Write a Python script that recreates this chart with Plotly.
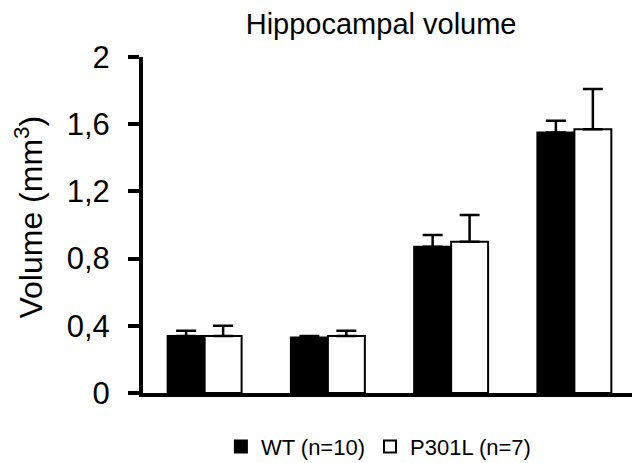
import plotly.graph_objects as go

categories = ["1", "2", "3", "4"]
wt_values = [0.34, 0.33, 0.87, 1.55]
wt_errors = [0.03, 0.01, 0.07, 0.07]
p301l_values = [0.34, 0.34, 0.90, 1.57]
p301l_errors = [0.06, 0.03, 0.16, 0.24]
series_names = ["WT (n=10)", "P301L (n=7)"]
tick_vals = [0, 0.4, 0.8, 1.2, 1.6, 2]
tick_text = ["0", "0,4", "0,8", "1,2", "1,6", "2"]

FONT = "Liberation Sans, Arial, sans-serif"

fig = go.Figure()
fig.add_trace(go.Bar(
    x=categories, y=wt_values, name=series_names[0],
    marker=dict(color="black", line=dict(color="black", width=2)),
    error_y=dict(type="data", array=wt_errors, arrayminus=[0] * len(wt_errors),
                 symmetric=False, color="black", thickness=2.5, width=10),
))
fig.add_trace(go.Bar(
    x=categories, y=p301l_values, name=series_names[1],
    marker=dict(color="white", line=dict(color="black", width=2)),
    error_y=dict(type="data", array=p301l_errors, arrayminus=[0] * len(p301l_errors),
                 symmetric=False, color="black", thickness=2.5, width=10),
))

fig.update_layout(
    width=640, height=463,
    margin=dict(l=135, r=12, t=49, b=78, autoexpand=False),
    paper_bgcolor="white", plot_bgcolor="white",
    barmode="group", bargap=0.4, bargroupgap=0,
    font=dict(family=FONT, color="black"),
    title=dict(text="Hippocampal volume", x=0.583, xref="container", xanchor="center",
               y=0.966, yref="container", yanchor="middle",
               font=dict(size=29, family=FONT, color="black")),
    showlegend=True,
    legend=dict(orientation="h", x=0.158, xanchor="left", y=-0.16, yanchor="middle",
                font=dict(size=22, family=FONT, color="black"),
                itemwidth=30, tracegroupgap=0),
    xaxis=dict(showline=True, linecolor="black", linewidth=4, showticklabels=False,
               ticks="", showgrid=False, zeroline=False, range=[-0.5, 3.5],
               automargin=False),
    yaxis=dict(range=[0, 2], showline=True, linecolor="black", linewidth=4,
               ticks="outside", ticklen=11, tickwidth=4, tickcolor="black",
               tickvals=tick_vals, ticktext=tick_text, ticklabelstandoff=12,
               tickfont=dict(size=31, family=FONT, color="black"),
               showgrid=False, zeroline=False, automargin=False),
    annotations=[dict(text="Volume (mm<sup>3</sup>)", textangle=-90,
                      xref="paper", yref="paper", x=-0.232, y=0.524,
                      xanchor="center", yanchor="middle", showarrow=False,
                      font=dict(size=32, family=FONT, color="black"))],
)

fig.write_html("out.html")
